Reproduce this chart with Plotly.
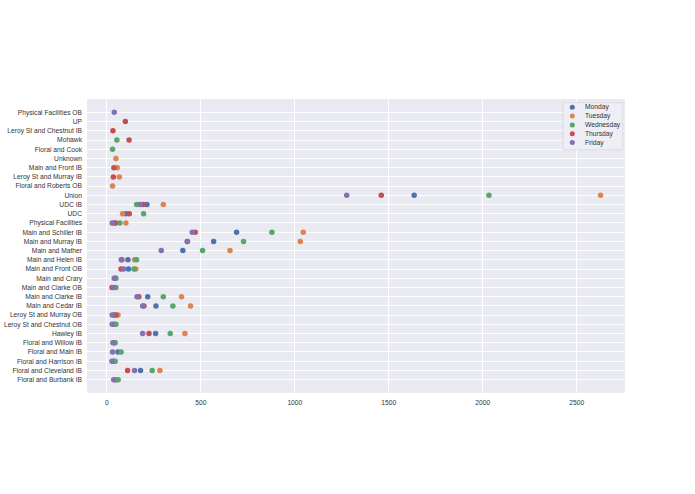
import plotly.graph_objects as go

categories = [
    "Physical Facilities OB", "UP", "Leroy St and Chestnut IB", "Mohawk",
    "Floral and Cook", "Unknown", "Main and Front IB", "Leroy St and Murray IB",
    "Floral and Roberts OB", "Union", "UDC IB", "UDC", "Physical Facilities",
    "Main and Schiller IB", "Main and Murray IB", "Main and Mather",
    "Main and Helen IB", "Main and Front OB", "Main and Crary",
    "Main and Clarke OB", "Main and Clarke IB", "Main and Cedar IB",
    "Leroy St and Murray OB", "Leroy St and Chestnut OB", "Hawley IB",
    "Floral and Willow IB", "Floral and Main IB", "Floral and Harrison IB",
    "Floral and Cleveland IB", "Floral and Burbank IB",
]

monday = [None, None, None, None, None, None, None, None, None, 1635,
          213, 101, 40, 690, 568, 404, 112, 115, 44, None,
          217, 261, 40, 38, 259, 38, 59, 36, 179, 46]
tuesday = [None, None, None, None, None, 48, 55, 66, 30, 2627,
           300, 83, 101, 1045, 1029, 655, 147, 154, None, None,
           397, 445, 59, None, 415, None, None, None, 282, 52]
wednesday = [None, None, None, 53, 30, None, None, None, None, 2033,
             158, 195, 69, 878, 727, 509, 158, 144, 48, 48,
             300, 351, 38, 48, 337, 44, 76, 44, 241, 60]
thursday = [None, 98, 32, 118, None, None, 37, 34, None, 1460,
            193, 119, 46, 470, 429, None, 80, 75, None, 27,
            170, 197, 48, None, 224, None, None, None, 110, None]
friday = [39, None, None, None, None, None, None, None, None, 1276,
          177, None, 28, 454, 427, 289, 76, 89, 39, 36,
          160, 190, 28, 28, 190, 32, 30, 27, 147, 36]

series_names = ["Monday", "Tuesday", "Wednesday", "Thursday", "Friday"]
series_values = [monday, tuesday, wednesday, thursday, friday]
colors = ["#4C72B0", "#DD8452", "#55A868", "#C44E52", "#8172B3"]
x_ticks = [0, 500, 1000, 1500, 2000, 2500]

fig = go.Figure()
for name, vals, col in zip(series_names, series_values, colors):
    xs, ys = [], []
    for c, v in zip(categories, vals):
        if v is not None:
            xs.append(v)
            ys.append(c)
    fig.add_trace(go.Scatter(
        x=xs, y=ys, mode="markers", name=name,
        marker=dict(color=col, size=5.5, line=dict(width=0)),
        showlegend=False,
    ))

n = len(categories)
FS = 6.7
TXT = "#333333"
fig.update_layout(
    width=695, height=494,
    margin=dict(l=87, r=70, t=99, b=100.7, autoexpand=False),
    paper_bgcolor="white",
    plot_bgcolor="#EAEAF2",
    font=dict(family="Liberation Sans, Arial, sans-serif", size=FS, color=TXT),
    xaxis=dict(
        range=[-106, 2757], tickvals=x_ticks, showgrid=True, gridcolor="white",
        gridwidth=1, zeroline=False, showline=False, ticks="", automargin=False,
        tickfont=dict(size=FS, color=TXT), ticklabelstandoff=4,
    ),
    yaxis=dict(
        type="category", categoryorder="array", categoryarray=categories,
        range=[n - 1 + 1.45, -1.45], showgrid=True, gridcolor="white",
        gridwidth=1, zeroline=False, showline=False, ticks="", automargin=False,
        ticklabelstandoff=4, tickfont=dict(size=FS, color=TXT),
    ),
    showlegend=False,
)

# Legend drawn in paper coordinates (reference pixel positions)
x0p, y_top, w, h = 87.0, 99.0, 538.0, 294.3
def px_x(px):
    return (px - x0p) / w
def px_y(py):
    return (y_top + h - py) / h

shapes = [dict(
    type="rect", xref="paper", yref="paper",
    x0=px_x(563), x1=px_x(622.7), y0=px_y(150), y1=px_y(102.7),
    fillcolor="#EEEEF4", line=dict(color="#D5D5DD", width=0.8), layer="above",
)]
annotations = []
item_ys = [107.3, 116.1, 125.0, 133.8, 142.6]
for name, col, iy in zip(series_names, colors, item_ys):
    shapes.append(dict(
        type="circle", xref="paper", yref="paper",
        xsizemode="pixel", ysizemode="pixel",
        xanchor=px_x(572.3), yanchor=px_y(iy),
        x0=-2.5, x1=2.5, y0=-2.5, y1=2.5,
        fillcolor=col, line=dict(width=0), layer="above",
    ))
    annotations.append(dict(
        xref="paper", yref="paper", x=px_x(583.0), y=px_y(iy),
        text=name, showarrow=False, xanchor="left", yanchor="middle",
        font=dict(size=FS, color=TXT),
    ))
fig.update_layout(shapes=shapes, annotations=annotations)

fig.write_html("out.html", config={"displayModeBar": False},
               post_script="document.body.style.margin='0';")
